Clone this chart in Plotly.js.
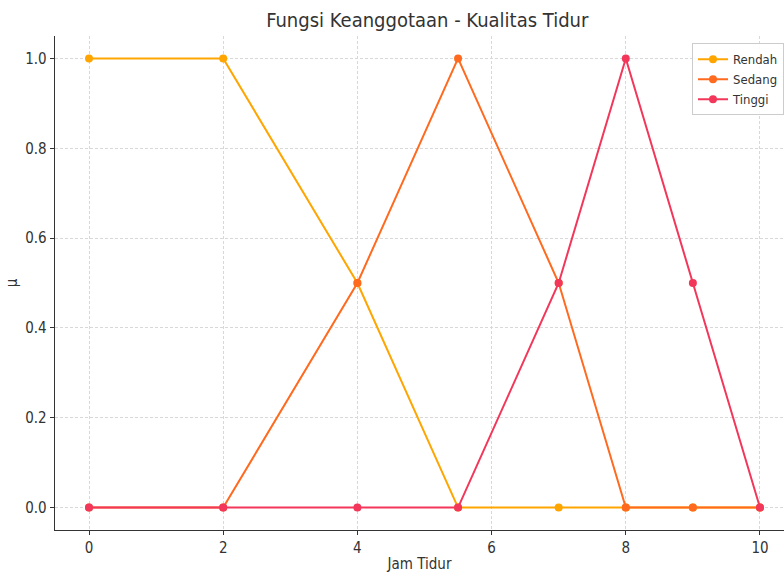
<!DOCTYPE html>
<html><head><meta charset="utf-8">
<script src="https://cdn.plot.ly/plotly-3.0.1.min.js"></script>
<style>html,body{margin:0;padding:0;background:#fff;}#chart{width:784px;height:573px;}</style>
</head><body><div id="chart"></div>
<script>
const jamTidur = [0, 2, 4, 5.5, 7, 8, 9, 10];
const rendah = [1, 1, 0.5, 0, 0, 0, 0, 0];
const sedang = [0, 0, 0.5, 1, 0.5, 0, 0, 0];
const tinggi = [0, 0, 0, 0, 0.5, 1, 0.5, 0];
const seriesNames = ['Rendah', 'Sedang', 'Tinggi'];
const seriesColors = ['#FFA500', '#FF6A1F', '#F2375A'];
const seriesValues = [rendah, sedang, tinggi];

const FONT = '"DejaVu Sans Condensed", "DejaVu Sans", sans-serif';
const traces = seriesValues.map((v, i) => ({
  x: jamTidur, y: v, name: seriesNames[i], type: 'scatter', mode: 'lines+markers',
  line: {color: seriesColors[i], width: 2},
  marker: {color: seriesColors[i], size: 8}
}));

const layout = {
  width: 784, height: 573,
  margin: {l: 55, r: 0, t: 35.5, b: 42.5, autoexpand: false},
  paper_bgcolor: '#fff', plot_bgcolor: '#fff',
  font: {family: FONT, color: '#333', size: 14},
  title: {text: 'Fungsi Keanggotaan - Kualitas Tidur', font: {family: FONT, size: 20, color: '#333'}, x: 0.545, xanchor: 'center', y: 0.965, yanchor: 'middle'},
  xaxis: {
    range: [-0.507, 10.358], tickvals: [0, 2, 4, 6, 8, 10], ticktext: ['0','2','4','6','8','10'],
    showgrid: true, gridcolor: '#d8d8d8', griddash: '3px,2px', gridwidth: 1, automargin: false,
    zeroline: false, showline: true, linecolor: '#333', linewidth: 1.3,
    ticks: 'outside', ticklen: 4, tickcolor: '#333', tickfont: {size: 15, color: '#333'},
    title: {text: 'Jam Tidur', font: {size: 15, color: '#333'}, standoff: 6}
  },
  yaxis: {
    range: [-0.05, 1.05], tickvals: [0, 0.2, 0.4, 0.6, 0.8, 1.0], ticktext: ['0.0','0.2','0.4','0.6','0.8','1.0'],
    showgrid: true, gridcolor: '#d8d8d8', griddash: '3px,2px', gridwidth: 1, automargin: false,
    zeroline: false, showline: true, linecolor: '#333', linewidth: 1.3,
    ticks: 'outside', ticklen: 4, tickcolor: '#333', tickfont: {size: 15, color: '#333'},
    title: {text: 'μ', font: {size: 15, color: '#333'}, standoff: 4}
  },
  legend: {x: 1.0, xanchor: 'right', y: 0.985, yanchor: 'top', bgcolor: 'rgba(255,255,255,0.9)', bordercolor: '#ccc', borderwidth: 1, font: {size: 13, color: '#333'}, itemwidth: 30, tracegroupgap: 0}
};
Plotly.newPlot('chart', traces, layout, {staticPlot: true, displayModeBar: false});
</script></body></html>
